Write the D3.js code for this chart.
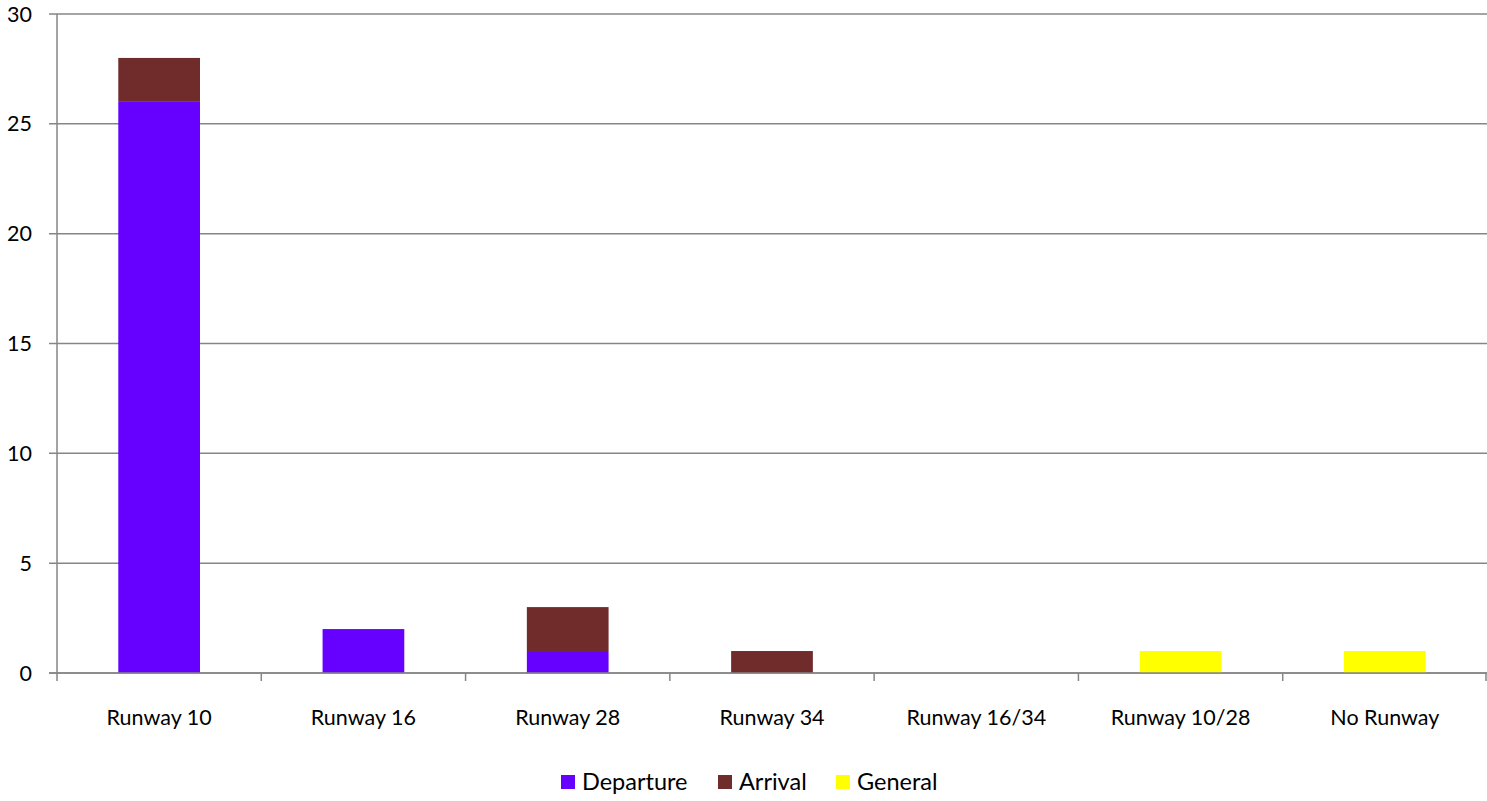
<!DOCTYPE html>
<html><head><meta charset="utf-8">
<script src="https://cdn.jsdelivr.net/npm/d3@7"></script>
<style>body{margin:0;background:#fff}svg{display:block;font-family:Lato,"Open Sans",sans-serif}</style>
</head><body><svg id="c" width="1487" height="801"></svg>
<script>
const categories = ["Runway 10","Runway 16","Runway 28","Runway 34","Runway 16/34","Runway 10/28","No Runway"];
const departure = [26,2,1,0,0,0,0];
const arrival = [2,0,2,1,0,0,0];
const general = [0,0,0,0,0,1,1];
const seriesNames = ["Departure","Arrival","General"];
const yTicks = [0,5,10,15,20,25,30];
const colors = ["#6600FF","#702B2B","#FFFF00"];

const svg = d3.select("#c");
const m = {l:57, r:1487, t:14, b:673};
const x = d3.scaleBand().domain(categories).range([m.l, m.r]).paddingInner(0.6).paddingOuter(0.3);
const xb = d3.scaleBand().domain(categories).range([m.l, m.r]);
const y = d3.scaleLinear().domain([0,30]).range([m.b, m.t]);

// gridlines
svg.append("g").selectAll("line").data(yTicks).join("line")
  .attr("x1", m.l-8).attr("x2", m.r).attr("y1", d=>y(d)).attr("y2", d=>y(d))
  .attr("stroke","#868686").attr("stroke-width",1.5);
// y axis line
svg.append("line").attr("x1",m.l).attr("x2",m.l).attr("y1",m.t).attr("y2",m.b+8).attr("stroke","#868686").attr("stroke-width",1.5);
// x ticks
const xt = categories.map(c=>xb(c)).concat([m.r]);
svg.append("g").selectAll("line").data(xt.slice(1)).join("line")
  .attr("x1",d=>Math.min(d,m.r-1)).attr("x2",d=>Math.min(d,m.r-1)).attr("y1",m.b).attr("y2",m.b+8)
  .attr("stroke","#868686").attr("stroke-width",1.5);
// y labels
svg.append("g").selectAll("text").data(yTicks).join("text")
  .attr("x",32).attr("y",d=>y(d)).attr("dy","0.35em").attr("text-anchor","end")
  .attr("font-size",21.5).attr("fill","#000").text(d=>d);

// stacked bars
const rows = categories.map((c,i)=>({cat:c, Departure:departure[i], Arrival:arrival[i], General:general[i]}));
const stack = d3.stack().keys(seriesNames)(rows);
svg.append("g").selectAll("g").data(stack).join("g").attr("fill",(d,i)=>colors[i])
  .selectAll("rect").data(d=>d.filter(p=>p[1]-p[0]>0)).join("rect")
  .attr("x",d=>x(d.data.cat)).attr("width",x.bandwidth())
  .attr("y",d=>y(d[1])).attr("height",d=>y(d[0])-y(d[1]));

// redraw baseline over bars
svg.append("line").attr("x1",m.l-8).attr("x2",m.r).attr("y1",y(0)).attr("y2",y(0)).attr("stroke","#868686").attr("stroke-width",1.5);

// x labels
svg.append("g").selectAll("text").data(categories).join("text")
  .attr("x",d=>xb(d)+xb.bandwidth()/2).attr("y",725).attr("text-anchor","middle")
  .attr("font-size",21.5).attr("fill","#000").text(d=>d);

// legend
const legX = [561, 718, 836];
const lg = svg.append("g").selectAll("g").data(seriesNames).join("g")
  .attr("transform",(d,i)=>`translate(${legX[i]},775)`);
lg.append("rect").attr("width",14).attr("height",14).attr("fill",(d,i)=>colors[i]);
lg.append("text").attr("x",21).attr("y",7).attr("dy","0.36em").attr("font-size",23.5).attr("fill","#000").text(d=>d);
</script></body></html>
